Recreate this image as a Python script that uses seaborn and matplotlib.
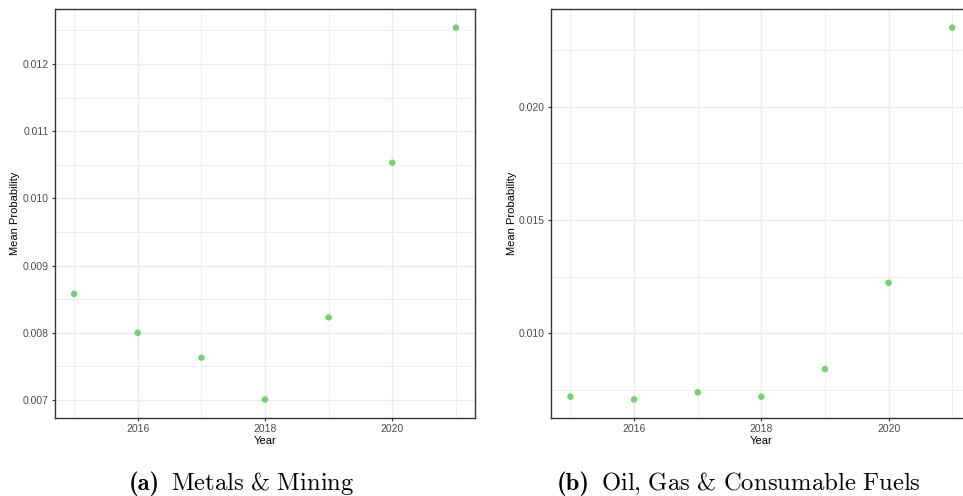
import numpy as np
import pandas as pd
import seaborn as sns
import matplotlib.pyplot as plt
from matplotlib.ticker import MultipleLocator

years = [2015, 2016, 2017, 2018, 2019, 2020, 2021]
metals_mining = [0.00858, 0.00800, 0.00763, 0.00701, 0.00823, 0.01053, 0.01254]
oil_gas = [0.00720, 0.00708, 0.00739, 0.00720, 0.00842, 0.01223, 0.02350]

caption_tags = ["(a)", "(b)"]
caption_names = [r"$\mathrm{Metals\ &\ Mining}$",
                 r"$\mathrm{Oil{,}\ Gas\ &\ Consumable\ Fuels}$"]

sns.set_theme(style="white")
plt.rcParams["font.family"] = ["Liberation Sans", "DejaVu Sans"]
plt.rcParams["mathtext.fontset"] = "cm"

point_color = "#74D172"
grid_color = "#EBEBEB"
border_color = "#333333"
tick_color = "#4D4D4D"

W, H = 963, 496
fig = plt.figure(figsize=(W / 100, H / 100), dpi=100)

# pixel boxes: left, right, top, bottom
boxes = [(55, 475, 9, 418), (551.3, 971.3, 9, 418)]
ymajor = [0.001, 0.005]
caption_x = [242, 739]
ylabel_x = [15, 511.7]


def ggplot_limits(vals):
    lo, hi = min(vals), max(vals)
    pad = (hi - lo) * 0.05
    return lo - pad, hi + pad


renderer = fig.canvas.get_renderer()

for i, vals in enumerate([metals_mining, oil_gas]):
    l, r, t, b = boxes[i]
    ax = fig.add_axes([l / W, 1 - b / H, (r - l) / W, (b - t) / H])
    df = pd.DataFrame({"Year": years, "Mean Probability": vals})
    sns.scatterplot(data=df, x="Year", y="Mean Probability", ax=ax,
                    color=point_color, s=22, edgecolor="none", zorder=3)

    ax.set_xlim(*ggplot_limits(years))
    ax.set_ylim(*ggplot_limits(vals))
    ax.xaxis.set_major_locator(MultipleLocator(2))
    ax.xaxis.set_minor_locator(MultipleLocator(1))
    ax.yaxis.set_major_locator(MultipleLocator(ymajor[i]))
    ax.yaxis.set_minor_locator(MultipleLocator(ymajor[i] / 2))
    ax.xaxis.set_major_formatter(plt.FuncFormatter(lambda v, p: f"{int(v)}"))
    ax.yaxis.set_major_formatter(plt.FuncFormatter(lambda v, p: f"{v:.3f}"))

    ax.grid(True, which="major", color=grid_color, linewidth=1.0, zorder=0)
    ax.grid(True, which="minor", color=grid_color, linewidth=0.6, zorder=0)
    ax.set_axisbelow(True)

    for sp in ax.spines.values():
        sp.set_color(border_color)
        sp.set_linewidth(1.0)

    ax.tick_params(which="major", length=2.5, width=0.8, color=border_color,
                   labelsize=7.5, labelcolor=tick_color, pad=2, direction="out",
                   bottom=True, left=True)
    ax.tick_params(which="minor", length=0)

    ax.set_xlabel("")
    ax.set_ylabel("")
    fig.text((l + r) / 2 / W, 1 - 440.5 / H, "Year", ha="center", va="center",
             fontsize=8, color="black")
    fig.text(ylabel_x[i] / W, 1 - (t + b) / 2 / H, "Mean Probability",
             rotation=90, ha="center", va="center", fontsize=8, color="black")

    # caption: bold tag in cmb10, name in computer modern roman
    tag = fig.text(0, 1 - 490 / H, caption_tags[i], ha="left", va="baseline",
                   fontsize=17.8, family="cmb10", color="black")
    name = fig.text(0, 1 - 490 / H, caption_names[i], ha="left",
                    va="baseline", fontsize=17.8, color="black")
    w_tag = tag.get_window_extent(renderer).width
    w_name = name.get_window_extent(renderer).width
    gap = 11
    x0 = caption_x[i] - (w_tag + gap + w_name) / 2
    tag.set_x(x0 / W)
    name.set_x((x0 + w_tag + gap) / W)

fig.savefig("out.png", dpi=100)
plt.close(fig)
